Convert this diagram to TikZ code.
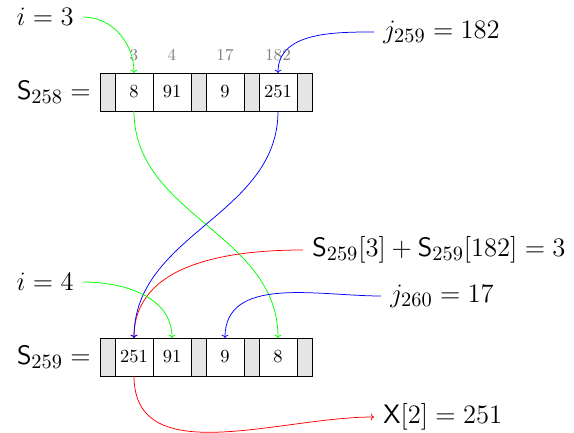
\RequirePackage{fix-cm}
\documentclass[tikz,border=0pt]{standalone}
\usetikzlibrary{arrows.meta}
\DeclareMathSizes{14.4}{14.4}{11}{8}
\begin{document}
\begin{tikzpicture}[x=1pt,y=1pt,
  cellw/.style={draw=black,line width=0.8pt,fill=white,scale=1.85,minimum width=20.54pt,minimum height=20.54pt,inner sep=0pt,outer sep=0pt,font=\normalsize},
  cellg/.style={cellw,fill=black!10,minimum width=8.11pt},
  idx/.style={text=black!50,scale=1.85,font=\small,inner sep=0pt},
  lbl/.style={scale=1.85,font=\Large,inner sep=4.86pt},
  conn/.style={line width=0.75pt,->},
]
\useasboundingbox (0,0) rectangle (574,432);
% top array S_258
\node[cellg] (a0) at (107.5,340) {};
\node[cellw] (a1) at (134,340) {8};
\node[cellw] (a2) at (172,340) {91};
\node[cellg] (a3) at (198.5,340) {};
\node[cellw] (a4) at (225,340) {9};
\node[cellg] (a5) at (251.5,340) {};
\node[cellw] (a6) at (278,340) {251};
\node[cellg] (a7) at (304.5,340) {};
% indices
\node[idx] (n1) at (134,377) {3};
\node[idx] (n2) at (172,377) {4};
\node[idx] (n3) at (225,377) {17};
\node[idx] (n4) at (278,377) {182};
% bottom array S_259
\node[cellg] (b0) at (107.5,75) {};
\node[cellw] (b1) at (134,75) {251};
\node[cellw] (b2) at (172,75) {91};
\node[cellg] (b3) at (198.5,75) {};
\node[cellw] (b4) at (225,75) {9};
\node[cellg] (b5) at (251.5,75) {};
\node[cellw] (b6) at (278,75) {8};
\node[cellg] (b7) at (304.5,75) {};
% labels
\node[lbl,anchor=east] (s258) at (a0.west) {$\mathsf{S}_{258} =$};
\node[lbl,anchor=east] (s259) at (b0.west) {$\mathsf{S}_{259} =$};
\node[lbl,anchor=east] (i3) at (83,415) {$i = 3$};
\node[lbl,anchor=west] (j259) at (374,400) {$j_{259} = 182$};
\node[lbl,anchor=west] (sum) at (303,182) {$\mathsf{S}_{259}[3] + \mathsf{S}_{259}[182] = 3$};
\node[lbl,anchor=east] (i4) at (83,150) {$i = 4$};
\node[lbl,anchor=west] (j260) at (381,136) {$j_{260} = 17$};
\node[lbl,anchor=west] (x2) at (374,15) {$\mathsf{X}[2] = 251$};
% connectors
\draw[conn,green] (i3.east) to[out=0,in=90] (a1.north);
\draw[conn,blue] (j259.west) to[out=180,in=90] (a6.north);
\draw[conn,green] (a1.south) to[out=-90,in=90] (b6.north);
\draw[conn,red] (sum.west) to[out=180,in=90] (b1.north);
\draw[conn,blue] (a6.south) to[out=-90,in=90] (b1.north);
\draw[conn,green] (i4.east) to[out=0,in=90] (b2.north);
\draw[conn,blue] (j260.west) to[out=180,in=90] (b4.north);
\draw[conn,red] (b1.south) to[out=-90,in=180] (x2.west);
\end{tikzpicture}
\end{document}
